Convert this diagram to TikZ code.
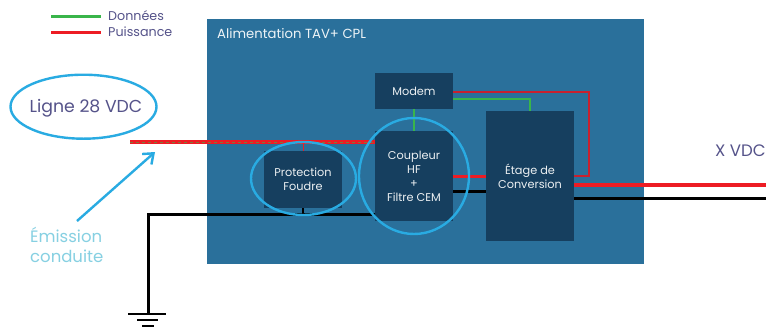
\documentclass[tikz,border=0pt]{standalone}
\usepackage{fontspec}
\setmainfont{Poppins}
\usetikzlibrary{shapes.geometric,arrows.meta}
\definecolor{panel}{HTML}{2A709B}
\definecolor{block}{HTML}{163F5F}
\definecolor{halo}{HTML}{29ABE2}
\definecolor{ink}{HTML}{55538A}
\definecolor{pale}{HTML}{86D0E2}
\definecolor{pw}{HTML}{ED1C24}
\definecolor{dat}{HTML}{39B54A}
\definecolor{pwdim}{HTML}{C8202E}
\tikzset{
  blockbox/.style={rectangle,fill=block,draw=none,text=white!92!block,align=center,inner sep=0pt,font=\fontsize{11.3}{14}\selectfont},
  halonode/.style={ellipse,draw=halo,line width=2.4pt,fill=none,inner sep=0pt},
  pwthick/.style={draw=pw,line width=3pt},
  pwthin/.style={draw=pwdim,line width=1.6pt},
  datthin/.style={draw=dat,line width=1.2pt},
  gnd/.style={draw=black,line width=3pt,line join=miter},
  lbl/.style={text=ink,inner sep=0pt,anchor=west}
}
\begin{document}
\begin{tikzpicture}[x=1pt,y=-1pt]
\useasboundingbox (0,0) rectangle (766,327);
\fill[white] (0,0) rectangle (766,327);
% panel
\node[rectangle,fill=panel,draw=none,minimum width=437pt,minimum height=245pt,inner sep=0pt] (panel) at (425.5,141.5) {};
\node[text=white!92!panel,inner sep=0pt,anchor=west,font=\fontsize{13.2}{15}\selectfont] (title) at (217,33.5) {Alimentation TAV+ CPL};
% blocks
\node[blockbox,minimum width=78pt,minimum height=36pt] (modem) at (414,91) {Modem};
\node[blockbox,minimum width=78pt,minimum height=90pt] (coupleur) at (414,176) {Coupleur\\HF\\+\\Filtre CEM};
\node[blockbox,minimum width=78pt,minimum height=57pt] (protect) at (303,179.5) {Protection\\Foudre};
\node[blockbox,minimum width=88pt,minimum height=130pt] (etage) at (530,176) {Étage de\\Conversion};
% free ends
\coordinate (lineL) at (130,142);
\coordinate (lineR) at (375,142);
\coordinate (gndtop) at (148,214);
\coordinate (gndR) at (375,214);
\coordinate (gndbase) at (148,314);
\coordinate (outR) at (766,185);
\coordinate (outB) at (766,198.5);
\coordinate (etR) at (574,185);
\coordinate (etB) at (574,198.5);
\coordinate (tap) at (303,142);
\coordinate (tapB) at (303,214);
\coordinate (cpR) at (453,176);
\coordinate (etPw) at (486,176);
\coordinate (cpB) at (453,191);
\coordinate (etBk) at (486,191);
\coordinate (moPw) at (453,92);
\coordinate (moDat) at (453,99);
\coordinate (turn) at (589,176);
\coordinate (corner) at (589,92);
\coordinate (etThin) at (574,176);
\coordinate (g1a) at (128,314);\coordinate (g1b) at (166,314);
\coordinate (g2a) at (137,320);\coordinate (g2b) at (158,320);
\coordinate (g3a) at (142,326);\coordinate (g3b) at (154,326);
% connectors
\draw[gnd] (gndbase) -- (gndtop) -- (gndR);
\draw[draw=black,line width=1.2pt] (protect.south) -- (tapB);
\draw[draw=black,line width=1.6pt] (g1a) -- (g1b);
\draw[draw=black,line width=1.6pt] (g2a) -- (g2b);
\draw[draw=black,line width=1.6pt] (g3a) -- (g3b);
\draw[pwthick,line width=3.4pt] (lineL) -- (lineR);
\draw[draw=dat!60!pw,line width=.5pt,dash pattern=on 3pt off 3pt] (lineL) -- (lineR);
\draw[draw=pw,line width=.8pt] (tap) -- (protect.north);
\draw[datthin] (modem.south) -- (coupleur.north);
\draw[pwthin] (moPw) -- (corner) -- (turn) -- (etThin);
\draw[datthin] (moDat) -| (etage.north);
\draw[pwthick] (cpR) -- (etPw);
\draw[draw=black,line width=3pt] (cpB) -- (etBk);
\draw[pwthick,line width=3.2pt] (etR) -- (outR);
\draw[draw=black,line width=2.6pt] (etB) -- (outB);
% halos
\node[halonode,minimum width=146pt,minimum height=64pt] (ligne) at (83.5,106.7) {};
\node[text=ink,inner sep=0pt,font=\fontsize{17.3}{20}\selectfont] (lignetxt) at (86,108) {Ligne 28 VDC};
\node[halonode,minimum width=105pt,minimum height=73pt] (hprot) at (303.5,178.5) {};
\node[halonode,minimum width=110pt,minimum height=116pt] (hcoup) at (414,176) {};
% legend
\coordinate (l1a) at (51,16);\coordinate (l1b) at (101,16);
\coordinate (l2a) at (51,32);\coordinate (l2b) at (101,32);
\draw[draw=dat,line width=3pt] (l1a) -- (l1b);
\draw[draw=pw,line width=3pt] (l2a) -- (l2b);
\node[lbl,font=\fontsize{12.7}{14}\selectfont] (ldat) at (108,15.5) {Données};
\node[lbl,font=\fontsize{12.7}{14}\selectfont] (lpw) at (108,32) {Puissance};
% annotation
\node[text=pale,align=left,anchor=west,inner sep=0pt,font=\fontsize{16.5}{20}\selectfont] (emis) at (30,245) {Émission\\conduite};
\coordinate (arrowtip) at (155,152);
\coordinate (arrowtail) at (77,221);
\draw[draw=halo,line width=2.4pt,-{Straight Barb[length=9pt,width=14pt]}] (arrowtail) -- (arrowtip);
\node[text=ink,inner sep=0pt,anchor=west,font=\fontsize{16.6}{18}\selectfont] (xvdc) at (715,151) {X VDC};
\end{tikzpicture}
\end{document}
